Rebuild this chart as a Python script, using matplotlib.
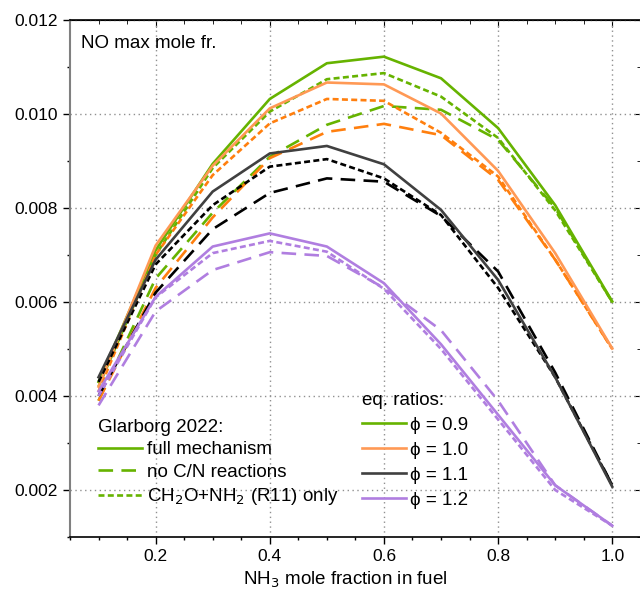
import numpy as np
import matplotlib.pyplot as plt
from matplotlib.lines import Line2D
from matplotlib.ticker import MultipleLocator

plt.rcParams['font.family'] = ['Liberation Sans', 'DejaVu Sans']
plt.rcParams['font.size'] = 13.5
plt.rcParams['lines.scale_dashes'] = False

# NH3 mole fraction in fuel
x = [0.1, 0.2, 0.3, 0.4, 0.5, 0.6, 0.7, 0.8, 0.9, 1.0]

# NO max mole fraction, phi = 0.9 / 1.0 / 1.1 / 1.2
full_09 = [0.0043, 0.0071, 0.00894, 0.01032, 0.01108, 0.01122, 0.01076, 0.00970, 0.00806, 0.00601]
r11_09 = [0.0042, 0.0070, 0.00885, 0.01005, 0.01074, 0.01087, 0.01037, 0.00949, 0.00795, 0.0060]
nocn_09 = [0.0039, 0.0065, 0.0079, 0.00909, 0.00977, 0.01017, 0.01009, 0.00945, 0.0080, 0.0060]

full_10 = [0.0042, 0.0072, 0.0089, 0.01012, 0.01067, 0.01063, 0.01001, 0.00879, 0.00704, 0.00501]
r11_10 = [0.0041, 0.0070, 0.0087, 0.0098, 0.01032, 0.01028, 0.0096, 0.00867, 0.0069, 0.0050]
nocn_10 = [0.0039, 0.0063, 0.0078, 0.00906, 0.00962, 0.00979, 0.00955, 0.0086, 0.0069, 0.0050]

full_11 = [0.0044, 0.0069, 0.00835, 0.00916, 0.00932, 0.00893, 0.00796, 0.00647, 0.0044, 0.00207]
r11_11 = [0.0043, 0.0068, 0.00806, 0.00888, 0.00904, 0.00863, 0.00785, 0.0063, 0.0044, 0.0021]
nocn_11 = [0.0040, 0.0062, 0.00755, 0.00832, 0.00863, 0.00856, 0.00783, 0.00665, 0.0045, 0.0021]

full_12 = [0.0041, 0.00611, 0.00718, 0.00746, 0.00718, 0.0064, 0.0051, 0.0036, 0.0021, 0.00124]
r11_12 = [0.0040, 0.0061, 0.00704, 0.0073, 0.00707, 0.00628, 0.0050, 0.0035, 0.0020, 0.00124]
nocn_12 = [0.0038, 0.0058, 0.00668, 0.00706, 0.00698, 0.0063, 0.0054, 0.0039, 0.0021, 0.00124]

phi_labels = ['\u03d5 = 0.9', '\u03d5 = 1.0', '\u03d5 = 1.1', '\u03d5 = 1.2']

green = '#66b300'
orange_l = '#ff9955'
orange = '#ff7f0e'
grey = '#404040'
purple = '#b07ee0'

long_dash = (0, (10.5, 6))
short_dash = (0, (4.3, 2.4))
lw = 1.9

fig = plt.figure(figsize=(6.4, 5.92), dpi=100)
ax = fig.add_axes([70 / 640, 55 / 592, 570.8 / 640, 517 / 592])

sets = [
    (full_09, r11_09, nocn_09, green, green, green),
    (full_10, r11_10, nocn_10, orange_l, orange, orange),
    (full_11, r11_11, nocn_11, grey, 'black', 'black'),
    (full_12, r11_12, nocn_12, purple, purple, purple),
]
for full, r11, nocn, c_full, c_r11, c_nocn in sets:
    ax.plot(x, nocn, color=c_nocn, lw=lw, linestyle=long_dash)
    ax.plot(x, r11, color=c_r11, lw=lw, linestyle=short_dash)
    ax.plot(x, full, color=c_full, lw=lw)

ax.set_xlim(0.05, 1.05)
ax.set_ylim(0.001, 0.012)
ax.xaxis.set_minor_locator(MultipleLocator(0.05))
ax.yaxis.set_minor_locator(MultipleLocator(0.001))
ax.set_xticks([0.2, 0.4, 0.6, 0.8, 1.0])
ax.set_xticklabels(['0.2', '0.4', '0.6', '0.8', '1.0'])
ax.set_yticks([0.002, 0.004, 0.006, 0.008, 0.010, 0.012])
ax.set_yticklabels(['0.002', '0.004', '0.006', '0.008', '0.010', '0.012'])

ax.grid(True, which='major', color='#909090', linestyle=(0, (1, 2.5)), lw=1)
ax.tick_params(which='major', direction='out', length=5, width=1, labelsize=12.5)
ax.tick_params(which='minor', direction='out', length=2.5, width=1)
ax.spines['left'].set_color('#808080')
ax.spines['left'].set_linewidth(1.5)
ax.spines['bottom'].set_linewidth(1.2)
ax.spines['top'].set_linewidth(1.2)
ax.spines['right'].set_visible(False)

top = ax.secondary_xaxis('top')
top.xaxis.set_major_locator(MultipleLocator(0.2))
top.xaxis.set_minor_locator(MultipleLocator(0.05))
top.tick_params(which='major', direction='in', length=5, labeltop=False)
top.tick_params(which='minor', direction='in', length=3)
right = ax.secondary_yaxis('right')
right.yaxis.set_major_locator(MultipleLocator(0.002))
right.yaxis.set_minor_locator(MultipleLocator(0.001))
right.tick_params(which='major', direction='in', length=5, labelright=False)
right.tick_params(which='minor', direction='in', length=3)

ax.set_xlabel('NH$_3$ mole fraction in fuel', fontsize=13.5)
ax.xaxis.set_label_coords((345 - 70) / 570.8, -0.064)
ax.text(0.019, 0.955, 'NO max mole fr.', transform=ax.transAxes, fontsize=13.5, va='center', ha='left')

# legend: mechanism variants
h1 = [Line2D([], [], color=green, lw=lw),
      Line2D([], [], color=green, lw=lw, linestyle=long_dash),
      Line2D([], [], color=green, lw=lw, linestyle=short_dash)]
l1 = ['full mechanism', 'no C/N reactions', 'CH$_2$O+NH$_2$ (R11) only']
leg1 = ax.legend(h1, l1, title='Glarborg 2022:', loc='upper left', bbox_to_anchor=(0.049, 0.228),
                 frameon=False, borderpad=0, borderaxespad=0, handlelength=2.35, handletextpad=0.27,
                 labelspacing=0.28, alignment='left', fontsize=13.5, title_fontsize=13.5)
ax.add_artist(leg1)

# legend: equivalence ratios
h2 = [Line2D([], [], color=c, lw=lw) for c in [green, orange_l, grey, purple]]
ax.legend(h2, phi_labels, title='eq. ratios:', loc='upper left', bbox_to_anchor=(0.5116, 0.281),
          frameon=False, borderpad=0, borderaxespad=0, handlelength=2.35, handletextpad=0.22,
          labelspacing=0.42, alignment='left', fontsize=13.5, title_fontsize=13.5)

fig.savefig('out.png', dpi=100)
